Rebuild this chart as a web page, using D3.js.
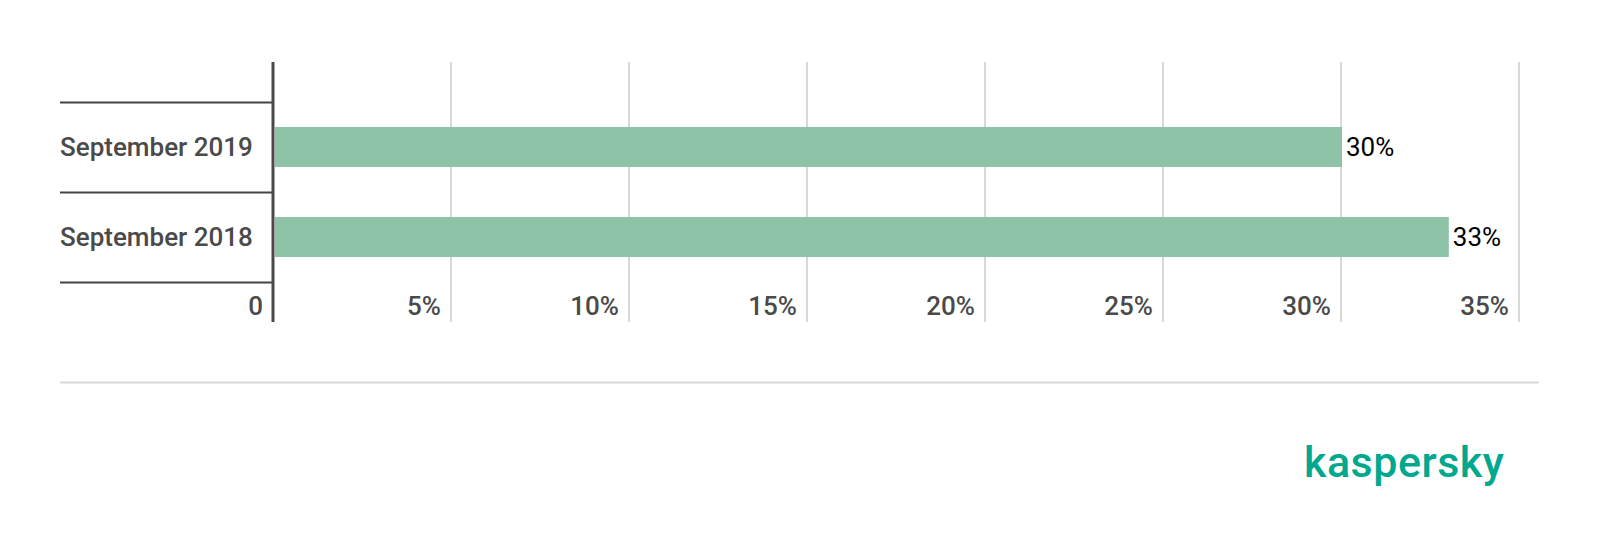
<!DOCTYPE html>
<html>
<head>
<meta charset="utf-8">
<script src="https://cdn.jsdelivr.net/npm/d3@7"></script>
<style>
  html, body { margin: 0; padding: 0; background: #fff; }
  svg { display: block; }
  text { font-family: Roboto, "Noto Sans", sans-serif; }
</style>
</head>
<body>
<svg id="chart" width="1600" height="546"></svg>
<script>
const categories = ["September 2019", "September 2018"];
const values = [30, 33];
const tickValues = [0, 5, 10, 15, 20, 25, 30, 35];
const tickLabels = ["0", "5%", "10%", "15%", "20%", "25%", "30%", "35%"];
const valueLabels = ["30%", "33%"];

const svg = d3.select("#chart");

const x = d3.scaleLinear().domain([0, 35]).range([273, 1519]);
const pad = 0.5556;
const y = d3.scaleBand().domain(categories).range([102.5, 282.5])
  .paddingInner(pad).paddingOuter(pad / 2);

const gridTop = 62, gridBottom = 322;

// gridlines
svg.append("g").selectAll("line")
  .data(tickValues.filter(t => t > 0))
  .join("line")
  .attr("x1", d => x(d)).attr("x2", d => x(d))
  .attr("y1", gridTop).attr("y2", gridBottom)
  .attr("stroke", "#d9d9d9").attr("stroke-width", 2);

// category separators
const bounds = categories.map(c => y(c) - y.step() * pad / 2);
bounds.push(y(categories[categories.length - 1]) + y.bandwidth() + y.step() * pad / 2);
svg.append("g").selectAll("line")
  .data(bounds)
  .join("line")
  .attr("x1", 60).attr("x2", x(0))
  .attr("y1", d => d).attr("y2", d => d)
  .attr("stroke", "#444").attr("stroke-width", 2);

// bars
svg.append("g").selectAll("rect")
  .data(categories)
  .join("rect")
  .attr("x", x(0) + 2)
  .attr("y", d => y(d) - 0.5)
  .attr("width", (d, i) => x(values[i]) - x(0) - 1)
  .attr("height", y.bandwidth())
  .attr("fill", "#8ec3a7");

// axis line
svg.append("line")
  .attr("x1", x(0)).attr("x2", x(0))
  .attr("y1", gridTop).attr("y2", gridBottom)
  .attr("stroke", "#4a4a4a").attr("stroke-width", 3);

// category labels
svg.append("g").selectAll("text")
  .data(categories)
  .join("text")
  .attr("x", 60)
  .attr("y", d => y(d) + y.bandwidth() / 2 + 8.5)
  .attr("font-size", 26)
  .attr("font-weight", 500)
  .attr("fill", "#4a4a4a")
  .text(d => d);

// value labels
svg.append("g").selectAll("text")
  .data(categories)
  .join("text")
  .attr("x", (d, i) => x(values[i]) + 5)
  .attr("y", d => y(d) + y.bandwidth() / 2 + 8)
  .attr("font-size", 26)
  .attr("font-weight", 400)
  .attr("fill", "#000")
  .text((d, i) => valueLabels[i]);

// tick labels
svg.append("g").selectAll("text")
  .data(tickValues)
  .join("text")
  .attr("x", d => x(d) - 10)
  .attr("y", 315)
  .attr("text-anchor", "end")
  .attr("font-size", 26)
  .attr("font-weight", 500)
  .attr("fill", "#4a4a4a")
  .text((d, i) => tickLabels[i]);

// bottom separator
svg.append("line")
  .attr("x1", 60).attr("x2", 1539)
  .attr("y1", 382.5).attr("y2", 382.5)
  .attr("stroke", "#d9d9d9").attr("stroke-width", 2);

// logo
svg.append("text")
  .attr("x", 1304).attr("y", 477)
  .attr("font-size", 43)
  .attr("font-weight", 500)
  .attr("letter-spacing", 0.5)
  .attr("fill", "#00a88e")
  .text("kaspersky");
</script>
</body>
</html>
